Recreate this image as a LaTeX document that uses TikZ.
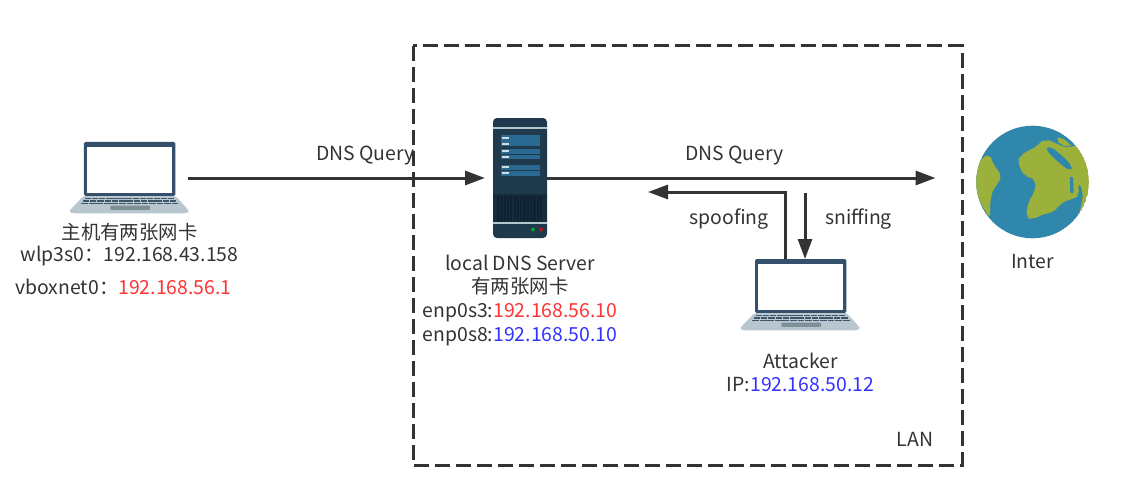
\documentclass[tikz,border=0pt]{standalone}
\usepackage{fontspec}
\setmainfont{Noto Sans CJK SC}
\usetikzlibrary{arrows.meta}
\definecolor{ink}{HTML}{333333}
\definecolor{ipred}{HTML}{FF3333}
\definecolor{ipblue}{HTML}{3333FF}
\definecolor{lapframe}{HTML}{34506A}
\definecolor{lapbase}{HTML}{B7C6CF}
\definecolor{lapkey}{HTML}{3F5568}
\definecolor{lappad}{HTML}{7F8F96}
\definecolor{srvbody}{HTML}{1F3A4D}
\definecolor{srvpanel}{HTML}{2A6A92}
\definecolor{srvline}{HTML}{B4C6CE}
\definecolor{srvgrill}{HTML}{0F2233}
\definecolor{sea}{HTML}{2F87AB}
\definecolor{land}{HTML}{9CB03C}
\tikzset{
  x=1pt,y=-1pt,
  lbl/.style={font=\fontsize{19.4}{23}\selectfont,text=ink,inner sep=0pt,align=center},
  iconbox/.style={inner sep=0pt,outer sep=0pt,minimum width=#1},
  flow/.style={draw=ink,line width=3pt,-{Triangle[length=20pt,width=14pt]}},
  frame/.style={draw=ink,line width=3pt,dash pattern=on 15pt off 6pt},
  laptop/.pic={
    \begin{scope}[x=.3333pt,y=-.3333pt,shift={(-10pt,12pt)}]
      \fill[lapbase,rounded corners=3pt] (72,197)--(346,197)--(385,240)--(385,244)--(378,250)--(36,250)--(30,244)--(30,240)--cycle;
      \fill[lapframe,rounded corners=1.5pt] (72,36) rectangle (346,198);
      \fill[white] (81,50) rectangle (336,190);
      \foreach \yy/\xa/\xb in {203/74/345,211/68/352,218/64/358}{
        \foreach \k in {0,...,12}{
          \pgfmathsetmacro\aa{\xa+\k*(\xb-\xa)/13}
          \pgfmathsetmacro\bb{\aa+(\xb-\xa)/13-2.5}
          \fill[lapkey] (\aa,\yy) rectangle (\bb,\yy+5.5);
        }
      }
      \fill[lappad,rounded corners=1pt] (151,227) rectangle (270,240);
    \end{scope}
  },
}
\begin{document}
\begin{tikzpicture}
\useasboundingbox (0,0) rectangle (1139,500);
\fill[white] (0,0) rectangle (1139,500);
\draw[frame] (413,46) rectangle (962,465);

% icons
\node[iconbox=118pt,minimum height=71pt] (host) at (129,178) {};
\pic at (70,142) {laptop};
\node[iconbox=116pt,minimum height=72pt] (attacker) at (800,295) {};
\pic at (741,259) {laptop};

\node[iconbox=54pt,minimum height=120pt] (server) at (520,178) {};
\fill[srvbody,rounded corners=4pt] (493,118) rectangle (547,238);
\fill[srvline] (493,127.3) rectangle (547,129);
\foreach \ya/\yb in {135.3/140.7,141.3/146,148.7/154,154.7/159.3,164.7/170,170.7/176}{
  \fill[srvpanel] (501,\ya) rectangle (540,\yb);
  \fill[srvline!60!white] (502,{(\ya+\yb)/2-.9}) rectangle (509,{(\ya+\yb)/2+.9});
}
\fill[srvbody!75!black] (493,194) rectangle (547,222);
\foreach \k in {0,...,13}{
  \fill[srvgrill] ({497+\k*3.3},196) rectangle ({499.2+\k*3.3},221);
}
\fill[srvline] (493,222) rectangle (547,224);
\fill[green!55!black!80!cyan] (533,229.5) circle (2pt);
\fill[red!70!black!90!pink] (541,229.5) circle (2pt);

\node[circle,iconbox=112pt] (globe) at (1032.5,182) {};
\begin{scope}
\clip (1032.5,182) circle (56.3pt);
\fill[sea] (1032.5,182) circle (56.3pt);
\begin{scope}[shift={(965,115)},x=.3333pt,y=-.3333pt]
\fill[land,rounded corners=6pt] (157,142)--(165,124)--(185,108)--(215,97)--(222,85)--(240,73)--(265,80)--(290,95)--(318,97)--(345,88)--(365,130)--(380,190)--(365,250)--(340,305)--(350,265)--(355,235)--(342,200)--(337,212)--(345,240)--(328,250)--(290,262)--(265,293)--(240,295)--(200,315)--(182,305)--(190,260)--(205,240)--(215,200)--(195,185)--(175,182)--(168,160)--cycle;
\fill[land,rounded corners=4pt] (273,72)--(285,65)--(318,88)--(312,96)--(285,88)--cycle;
\fill[sea,rounded corners=4pt] (240,100)--(258,95)--(300,130)--(322,155)--(318,167)--(300,158)--(265,128)--cycle;
\fill[sea,rounded corners=2pt] (314,185)--(324,185)--(326,235)--(316,235)--cycle;
\fill[land,rounded corners=6pt] (25,180)--(48,130)--(75,116)--(85,150)--(111,180)--(100,205)--(85,220)--(75,260)--(76,312)--(50,270)--(25,215)--cycle;
\end{scope}
\end{scope}

% labels
\node[lbl] (hostlbl1) at (129.5,232) {主机有两张网卡};
\node[lbl] (hostlbl2) at (129.5,256) {wlp3s0：192.168.43.158};
\node[lbl] (hostlbl3) at (123.5,287) {vboxnet0：\textcolor{ipred}{192.168.56.1}};
\node[lbl] (srvlbl1) at (520,263) {local DNS Server};
\node[lbl] (srvlbl2) at (520,286) {有两张网卡};
\node[lbl] (srvlbl3) at (520,313) {enp0s3:\textcolor{ipred}{192.168.56.10}};
\node[lbl] (srvlbl4) at (520,337) {enp0s8:\textcolor{ipblue}{192.168.50.10}};
\node[lbl] (atklbl1) at (800.5,361) {Attacker};
\node[lbl] (atklbl2) at (800.5,385) {IP:\textcolor{ipblue}{192.168.50.12}};
\node[lbl] (inter) at (1032.5,262) {Inter};
\node[lbl] (lan) at (915,439) {LAN};
\node[lbl] (q1) at (365.5,156) {DNS Query};
\node[lbl] (q2) at (734.5,156) {DNS Query};
\node[lbl] (spf) at (729,219) {spoofing};
\node[lbl] (snf) at (858.5,219) {sniffing};

% connectors
\draw[flow,shorten >=8pt] (host.east) -- (server.west);
\draw[flow,shorten >=41pt] (server.east) -- (server.east -| globe.west);
\coordinate (spoofcorner) at (785,192);
\coordinate (spooftip) at (648,192);
\coordinate (snifftop) at (805,193);
\draw[flow] (attacker.north -| spoofcorner) -- (spoofcorner) -- (spooftip);
\draw[flow] (snifftop) -- (snifftop |- attacker.north);
\end{tikzpicture}
\end{document}
